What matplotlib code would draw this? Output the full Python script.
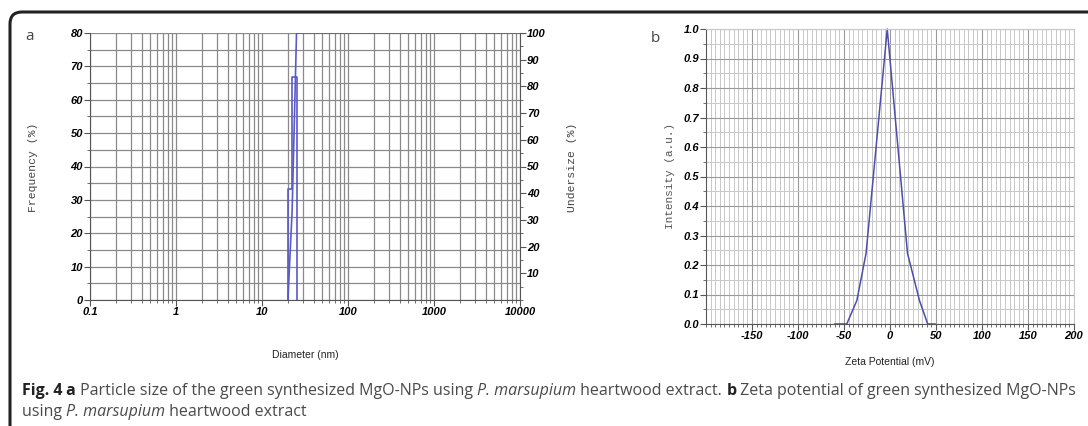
import matplotlib
matplotlib.use('Agg')
import matplotlib.pyplot as plt
from matplotlib.path import Path
from matplotlib.patches import PathPatch
from matplotlib.ticker import FixedLocator, LogLocator, MultipleLocator, NullFormatter
import numpy as np

# particle size data (panel a)
bin_edges = [20.0, 22.4, 25.2]
frequency = [33.3, 66.7]
undersize_d = [20.0, 22.4, 25.2, 10000]
undersize = [0, 33.3, 100, 100]
a_xticks = [0.1, 1, 10, 100, 1000, 10000]
a_xlabels = ['0.1', '1', '10', '100', '1000', '10000']

# zeta potential data (panel b)
zeta = [-60, -47, -36, -26, -3, 19, 32, 41, 49]
intensity = [0, 0, 0.08, 0.24, 1.0, 0.24, 0.08, 0, 0]
b_xticks = [-150, -100, -50, 0, 50, 100, 150, 200]

tickfont = dict(family='Liberation Sans', size=8, weight='bold', style='italic')
line_c = '#5a5ac8'

fig = plt.figure(figsize=(10.88, 4.26), dpi=100)

# frame (top + left with rounded corner)
W, H = 1088, 426
def fx(x): return x / W
def fy(y): return 1 - y / H
r = 12
verts = [(fx(10), fy(430)), (fx(10), fy(12 + r)), (fx(10), fy(12)), (fx(10 + r), fy(12)), (fx(1090), fy(12))]
codes = [Path.MOVETO, Path.LINETO, Path.CURVE3, Path.CURVE3, Path.LINETO]
fig.patches.append(PathPatch(Path(verts, codes), transform=fig.transFigure, fill=False,
                             lw=2.2, ec='#222222', clip_on=False))

# ---------- panel a ----------
ax = fig.add_axes([90 / W, 1 - 300 / H, 430 / W, 267 / H])
ax.set_xscale('log')
ax.set_xlim(0.1, 10000)
ax.set_ylim(0, 80)
ax.xaxis.set_major_locator(FixedLocator(a_xticks))
ax.xaxis.set_minor_locator(LogLocator(base=10, subs=np.arange(2, 10)))
ax.xaxis.set_minor_formatter(NullFormatter())
ax.set_xticks(a_xticks)
ax.set_xticklabels(a_xlabels, **tickfont)
ax.yaxis.set_major_locator(MultipleLocator(10))
ax.yaxis.set_minor_locator(MultipleLocator(5))
ax.set_yticks(range(0, 81, 10))
ax.set_yticklabels([str(v) for v in range(0, 81, 10)], **tickfont)
ax.grid(True, which='both', color='#8a8a8a', lw=0.9)
ax.set_axisbelow(True)
ax.tick_params(which='major', length=4, width=0.8, color='#555555', pad=1)
ax.tick_params(which='minor', length=2, width=0.6, color='#555555')
for s in ['top', 'right']:
    ax.spines[s].set_visible(False)
for s in ['left', 'bottom']:
    ax.spines[s].set_color('#555555')
    ax.spines[s].set_linewidth(0.8)

# histogram outline
xs = [bin_edges[0]]
ys = [0]
for i, f in enumerate(frequency):
    xs += [bin_edges[i], bin_edges[i + 1]]
    ys += [f, f]
xs.append(bin_edges[-1])
ys.append(0)
ax.plot(xs, ys, color=line_c, lw=1.2)

ax2 = ax.twinx()
ax2.set_ylim(0, 100)
ax2.set_xlim(0.1, 10000)
ax2.plot(undersize_d, undersize, color=line_c, lw=1.2)
ax2.yaxis.set_major_locator(MultipleLocator(10))
ax2.yaxis.set_minor_locator(MultipleLocator(5))
ax2.set_yticks(range(10, 101, 10))
ax2.set_yticklabels([str(v) for v in range(10, 101, 10)], **tickfont)
ax2.tick_params(which='major', length=4, width=0.8, color='#555555', pad=1)
ax2.tick_params(which='minor', length=2, width=0.6, color='#555555')
for s in ['top', 'left', 'bottom']:
    ax2.spines[s].set_visible(False)
ax2.spines['right'].set_color('#555555')
ax2.spines['right'].set_linewidth(0.8)

fig.text(fx(33), fy(167), 'Frequency (%)', rotation=90, ha='center', va='center',
         family='Liberation Mono', size=8.2, color='#444444')
fig.text(fx(572), fy(167), 'Undersize (%)', rotation=90, ha='center', va='center',
         family='Liberation Mono', size=8.2, color='#444444')
fig.text(fx(305), fy(355), 'Diameter (nm)', ha='center', va='center',
         family='Liberation Sans', size=7.5, color='#222222')
fig.text(fx(30), fy(36), 'a', ha='center', va='center', family='Open Sans', size=11, color='#444444')

# ---------- panel b ----------
bx = fig.add_axes([706 / W, 1 - 324 / H, 368 / W, 295 / H])
bx.set_xlim(-200, 200)
bx.set_ylim(0, 1.0)
bx.set_xticks(b_xticks)
bx.set_xticklabels([str(v) for v in b_xticks], **tickfont)
bx.xaxis.set_minor_locator(MultipleLocator(5))
bx.set_yticks(np.round(np.arange(0, 1.01, 0.1), 1))
bx.set_yticklabels(['%.1f' % v for v in np.arange(0, 1.01, 0.1)], **tickfont)
bx.yaxis.set_minor_locator(MultipleLocator(0.05))
bx.grid(True, which='major', color='#9a9a9a', lw=0.8)
bx.grid(True, which='minor', color='#c8c8c8', lw=0.7)
bx.set_axisbelow(True)
bx.tick_params(which='major', length=4, width=0.8, color='#555555', pad=1)
bx.tick_params(which='minor', length=2, width=0.6, color='#555555')
for s in ['top', 'right']:
    bx.spines[s].set_color('#c8c8c8')
for s in ['left', 'bottom']:
    bx.spines[s].set_color('#555555')
    bx.spines[s].set_linewidth(0.8)
bx.plot(zeta, intensity, color='#4e4eaa', lw=1.1, clip_on=False)

fig.text(fx(670), fy(176), 'Intensity (a.u.)', rotation=90, ha='center', va='center',
         family='Liberation Mono', size=8, color='#555555')
fig.text(fx(890), fy(362), 'Zeta Potential (mV)', ha='center', va='center',
         family='Liberation Sans', size=7.5, color='#222222')
fig.text(fx(655), fy(38), 'b', ha='center', va='center', family='Open Sans', size=11, color='#444444')

# ---------- caption ----------
cap_color = '#4a4a4a'
line1 = [('Fig. 4', 'bold', 'normal', '#222222'), (' a', 'bold', 'normal', '#222222'),
         (' Particle size of the green synthesized MgO-NPs using ', 'normal', 'normal', cap_color),
         ('P. marsupium', 'normal', 'italic', cap_color),
         (' heartwood extract. ', 'normal', 'normal', cap_color),
         ('b', 'bold', 'normal', '#222222'),
         (' Zeta potential of green synthesized MgO-NPs', 'normal', 'normal', cap_color)]
line2 = [('using ', 'normal', 'normal', cap_color), ('P. marsupium', 'normal', 'italic', cap_color),
         (' heartwood extract', 'normal', 'normal', cap_color)]

fig.canvas.draw()
renderer = fig.canvas.get_renderer()

# measure the first line at a trial size, then scale to fill the width
trial = 10
width = 0
for txt, wt, st, col in line1:
    t = fig.text(0, 0, txt, family='Open Sans', size=trial, weight=wt, style=st)
    width += t.get_window_extent(renderer=renderer).width
    t.remove()
cap_size = trial * (1075 - 22) / width

for pieces, ypix in [(line1, 391), (line2, 412)]:
    x = 22
    for txt, wt, st, col in pieces:
        t = fig.text(fx(x), fy(ypix), txt, ha='left', va='center', family='Open Sans',
                     size=cap_size, weight=wt, style=st, color=col)
        bb = t.get_window_extent(renderer=renderer)
        x += bb.width

fig.savefig('out.png', dpi=100)
